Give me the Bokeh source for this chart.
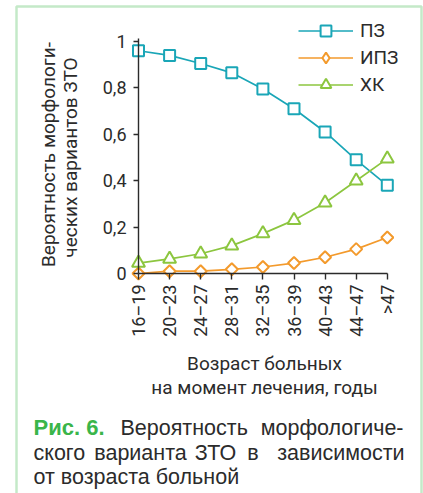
from math import pi
from bokeh.plotting import figure
from bokeh.models import (Range1d, Label, BoxAnnotation, Legend, LegendItem,
                          FixedTicker, LinearAxis)
from bokeh.embed import file_html
from bokeh.resources import INLINE

# ---- data ----
categories = ["16–19", "20–23", "24–27", "28–31", "32–35", "36–39", "40–43", "44–47", ">47"]
pz = [0.96, 0.94, 0.905, 0.865, 0.795, 0.71, 0.61, 0.49, 0.38]
ipz = [0.0, 0.01, 0.01, 0.018, 0.028, 0.045, 0.07, 0.105, 0.155]
hk = [0.045, 0.063, 0.085, 0.12, 0.172, 0.23, 0.305, 0.40, 0.495]
y_ticks = [0, 0.2, 0.4, 0.6, 0.8, 1]
y_tick_labels = ["0", "0,2", "0,4", "0,6", "0,8", "1"]
series_names = ["ПЗ", "ИПЗ", "ХК"]

# ---- layout (pixels in the picture) ----
W, H = 423, 493
OFF = 0                   # where the figure's top-left lands in the picture
X0, DX = 138.0, 31.1      # x of first category, spacing
Y0, DY = 273.0, 232.0     # y of value 0, pixels per unit


def px2x(px):
    return (px - X0) / DX


def px2y(py):
    return (Y0 - py) / DY


xs = list(range(len(categories)))

p = figure(width=W, height=H, output_backend="svg", toolbar_location=None,
           x_range=Range1d(px2x(OFF), px2x(OFF + W)),
           y_range=Range1d(px2y(OFF + H), px2y(OFF)),
           x_axis_type=None, y_axis_type=None, min_border=0)
p.outline_line_color = None
p.background_fill_color = "white"
p.border_fill_color = "white"

TXT = "#2b2b2b"

xaxis = LinearAxis(fixed_location=0, bounds=(0, len(categories) - 1),
                   ticker=FixedTicker(ticks=xs, minor_ticks=[]),
                   major_label_overrides={i: c for i, c in zip(xs, categories)},
                   major_label_orientation=pi / 2)
xaxis.axis_line_color = TXT
xaxis.axis_line_width = 1.4
xaxis.major_tick_line_color = TXT
xaxis.major_tick_line_width = 1.4
xaxis.major_tick_out = 6
xaxis.major_tick_in = 0
xaxis.major_label_standoff = 5
xaxis.major_label_text_font = "Roboto"
xaxis.major_label_text_font_size = "18px"
xaxis.major_label_text_color = TXT
p.add_layout(xaxis, "below")

yaxis = LinearAxis(fixed_location=0, bounds=(0, 1.012),
                   ticker=FixedTicker(ticks=y_ticks, minor_ticks=[]),
                   major_label_overrides={t: l for t, l in zip(y_ticks, y_tick_labels)})
yaxis.axis_line_color = TXT
yaxis.axis_line_width = 1.4
yaxis.major_tick_line_color = TXT
yaxis.major_tick_line_width = 1.4
yaxis.major_tick_out = 5
yaxis.major_tick_in = 0
yaxis.major_label_standoff = 7
yaxis.major_label_text_font = "Roboto"
yaxis.major_label_text_font_size = "18px"
yaxis.major_label_text_color = TXT
p.add_layout(yaxis, "left")

C_PZ, C_IPZ, C_HK = "#1aa6b7", "#f39a2c", "#8cc63f"
LW = 1.7

l1 = p.line(xs, pz, line_color=C_PZ, line_width=LW)
s1 = p.scatter(xs, pz, marker="square", size=11, fill_color="white",
               line_color=C_PZ, line_width=2)
l2 = p.line(xs, ipz, line_color=C_IPZ, line_width=LW)
s2 = p.scatter(xs, ipz, marker="square", angle=pi / 4, size=8.5, fill_color="white",
               line_color=C_IPZ, line_width=2)
# legend never rotates markers, so the legend entry uses a hidden diamond renderer
s2_leg = p.scatter(xs, ipz, marker="diamond", size=14, fill_color="white",
                   line_color=C_IPZ, line_width=2, visible=False)
l3 = p.line(xs, hk, line_color=C_HK, line_width=LW)
s3 = p.scatter(xs, hk, marker="triangle", size=13, fill_color="white",
               line_color=C_HK, line_width=2)

legend = Legend(items=[LegendItem(label=series_names[0], renderers=[l1, s1]),
                       LegendItem(label=series_names[1], renderers=[l2, s2_leg]),
                       LegendItem(label=series_names[2], renderers=[l3, s3])],
                location=(298, H - 98))
legend.glyph_width = 55
legend.glyph_height = 27
legend.label_height = 27
legend.spacing = -5
legend.padding = 0
legend.margin = 0
legend.label_standoff = 7
legend.label_text_font = "Roboto"
legend.label_text_font_size = "19px"
legend.label_text_color = TXT
legend.border_line_color = None
legend.background_fill_alpha = 0
legend.click_policy = "none"
p.add_layout(legend, "center")

# axis titles
TF = "Roboto"
p.add_layout(Label(x=px2x(48), y=px2y(154), text="Вероятность морфологи-",
                   angle=pi / 2, text_align="center", text_baseline="middle",
                   text_font=TF, text_font_size="19px", text_color=TXT))
p.add_layout(Label(x=px2x(70), y=px2y(157), text="ческих вариантов ЗТО",
                   angle=pi / 2, text_align="center", text_baseline="middle",
                   text_font=TF, text_font_size="19px", text_color=TXT))
p.add_layout(Label(x=px2x(264), y=px2y(363), text="Возраст больных",
                   text_align="center", text_baseline="middle",
                   text_font=TF, text_font_size="19px", text_color=TXT))
p.add_layout(Label(x=px2x(264), y=px2y(387), text="на момент лечения, годы",
                   text_align="center", text_baseline="middle",
                   text_font=TF, text_font_size="19px", text_color=TXT))

# caption (justified lines: words placed like the original)
GREEN = "#3ab54a"
CF = "Liberation Sans"
CS = "21.5px"


def cap(x, y, text, align="left", **kw):
    opts = dict(text_align=align, text_baseline="alphabetic", text_font=CF,
                text_font_size=CS, text_color=TXT)
    opts.update(kw)
    p.add_layout(Label(x=px2x(x), y=px2y(y), text=text, **opts))


cap(33, 427, "Рис. 6.", text_font_style="bold", text_color=GREEN, text_font_size="22px")
cap(120, 427, "Вероятность")
cap(403, 427, "морфологиче-", align="right")
cap(33, 452, "ского")
cap(140, 452, "варианта", align="center")
cap(215, 452, "ЗТО", align="center")
cap(252.5, 452, "в", align="center")
cap(404, 452, "зависимости", align="right")
cap(33, 476, "от возраста больной")

# green frame (bottom edge lies below the picture)
p.add_layout(BoxAnnotation(left=px2x(16), right=px2x(421), top=px2y(6), bottom=px2y(540),
                           fill_alpha=0, line_color=GREEN, line_width=2.5))

open("out.html", "w").write(file_html(p, INLINE))
